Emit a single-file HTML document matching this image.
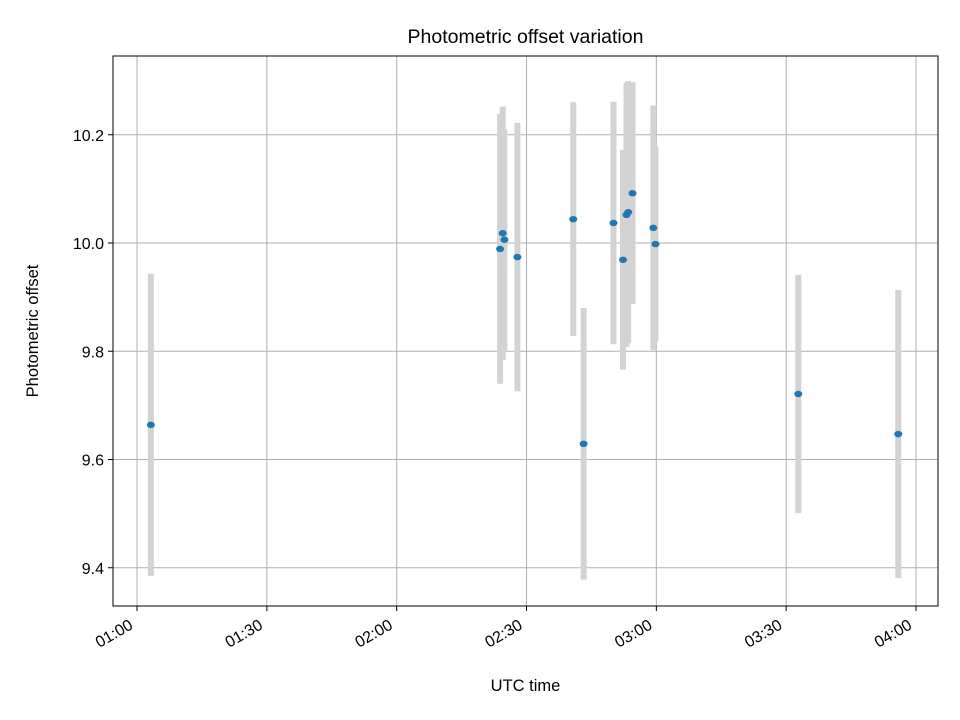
<!DOCTYPE html>
<html><head><meta charset="utf-8"><style>body{margin:0;background:#fff}svg{display:block;font-family:"Liberation Sans","DejaVu Sans",sans-serif}</style></head>
<body>
<svg id="c" width="960" height="720"></svg>
<script>
const times = [3.2,83.9,84.5,84.9,87.9,100.8,103.2,110.1,112.3,113.1,113.5,114.5,119.3,119.8,152.8,175.9];
const values = [9.664,9.989,10.018,10.006,9.974,10.044,9.629,10.037,9.969,10.052,10.057,10.092,10.028,9.998,9.721,9.647];
const errors = [0.279,0.249,0.234,0.204,0.248,0.216,0.251,0.224,0.203,0.244,0.242,0.205,0.226,0.180,0.220,0.266];
const xTicks = [0,30,60,90,120,150,180];
const xTickLabels = ["01:00","01:30","02:00","02:30","03:00","03:30","04:00"];
const yTicks = [9.4,9.6,9.8,10.0,10.2];
const yTickLabels = ["9.4","9.6","9.8","10.0","10.2"];
const NS="http://www.w3.org/2000/svg", svg=document.getElementById('c');
const L=113,R=938,T=56,B=606;
const X=m=>137+m*(779/180);
const Y=v=>243-(v-10)*541.25;
function add(tag,at,parent){const e=document.createElementNS(NS,tag);for(const k in at)e.setAttribute(k,at[k]);(parent||svg).appendChild(e);return e;}
xTicks.forEach((t,i)=>{
  const g=add('line',{x1:X(t),x2:X(t),y1:T,y2:B,stroke:'#b0b0b0','stroke-width':1});
  
  const tk=add('line',{x1:X(t),x2:X(t),y1:B,y2:B+5,stroke:'#000'});
  
  const ax=X(t)-3, ay=B+22;
  const tx=add('text',{x:ax,y:ay,'font-size':16,'text-anchor':'end',transform:`rotate(-30 ${ax} ${ay})`});
  tx.textContent=xTickLabels[i];
  
});
yTicks.forEach((v,i)=>{
  const g=add('line',{x1:L,x2:R,y1:Y(v),y2:Y(v),stroke:'#b0b0b0','stroke-width':1});
  
  const tk=add('line',{x1:L-5,x2:L,y1:Y(v),y2:Y(v),stroke:'#000'});
  
  const tx=add('text',{x:L-9,y:Y(v)+6,'font-size':16,'text-anchor':'end'});
  tx.textContent=yTickLabels[i];
  
});
times.forEach((t,i)=>{
  const e=add('line',{x1:X(t),x2:X(t),y1:Y(values[i]+errors[i]),y2:Y(values[i]-errors[i]),stroke:'#d3d3d3','stroke-width':6});
  
});
times.forEach((t,i)=>{
  const p=add('ellipse',{cx:X(t),cy:Y(values[i]),rx:4,ry:3.2,fill:'#1f77b4'});
  
});
const f=add('rect',{x:L,y:T,width:R-L,height:B-T,fill:'none',stroke:'#000','stroke-width':1});

const ti=add('text',{x:(L+R)/2,y:43,'font-size':19.5,'text-anchor':'middle'});ti.textContent='Photometric offset variation';

const xl=add('text',{x:(L+R)/2,y:691,'font-size':16.5,'text-anchor':'middle'});xl.textContent='UTC time';

const yl=add('text',{x:38,y:331,'font-size':16.5,'text-anchor':'middle',transform:'rotate(-90 38 331)'});yl.textContent='Photometric offset';

</script>
</body></html>
